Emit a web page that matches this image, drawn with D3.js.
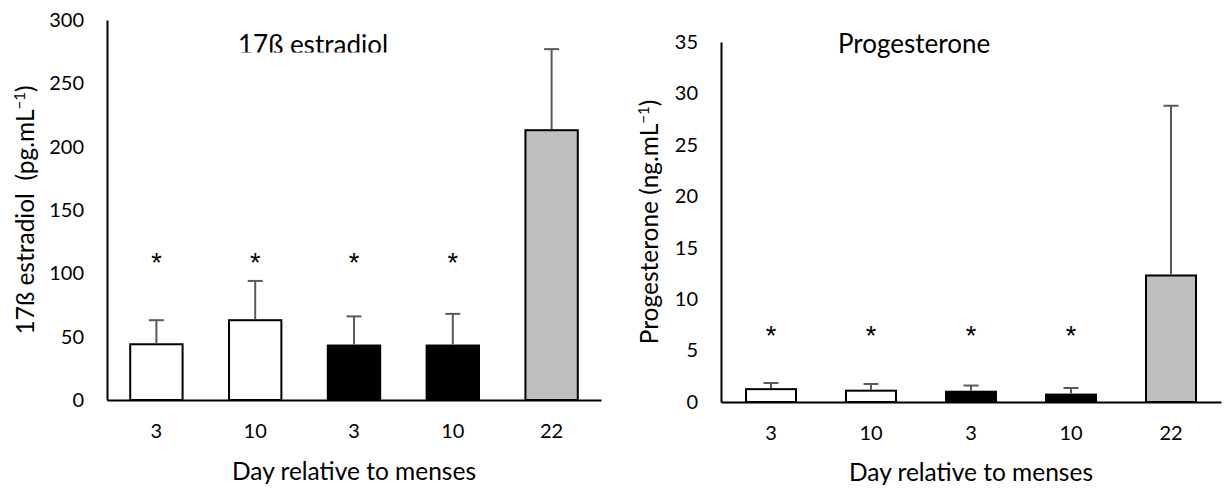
<!DOCTYPE html>
<html>
<head>
<meta charset="utf-8">
<script src="https://cdn.jsdelivr.net/npm/d3@7"></script>
<style>
  html, body { margin: 0; padding: 0; background: #fff; }
  svg { display: block; font-family: Lato, "Open Sans", sans-serif; }
  .pre { white-space: pre; }
</style>
</head>
<body>
<svg id="chart" width="1228" height="488"></svg>
<script>
// ---- data ----
const categories = ["3", "10", "3", "10", "22"];
const barFills = ["#ffffff", "#ffffff", "#000000", "#000000", "#bfbfbf"];
const significant = [true, true, true, true, false];

const e2Means = [44, 63, 43, 43, 213];
const e2Errors = [19, 31, 23, 25, 64];
const e2Ticks = [0, 50, 100, 150, 200, 250, 300];
const e2StarLevel = 113;

const p4Means = [1.25, 1.1, 1.0, 0.72, 12.3];
const p4Errors = [0.6, 0.65, 0.6, 0.64, 16.5];
const p4Ticks = [0, 5, 10, 15, 20, 25, 30, 35];
const p4StarLevel = 7.1;

const xTitle = "Day relative to menses";

const svg = d3.select("#chart");
const TICK_FONT = 20;
const LABEL_FONT = 24.5;
const TITLE_FONT = 26;

function panel(cfg) {
  const g = svg.append("g");
  const idx = categories.map((_, i) => i);
  const x = d3.scaleBand().domain(idx).range([cfg.x0, cfg.x1])
    .paddingInner(cfg.pad).paddingOuter(cfg.pad / 2);
  const y = d3.scaleLinear().domain([0, d3.max(cfg.ticks)]).range([cfg.yBottom, cfg.yTop]);

  // bars
  g.selectAll("rect.bar").data(cfg.means).join("rect")
    .attr("class", "bar")
    .attr("x", (d, i) => x(i))
    .attr("width", x.bandwidth())
    .attr("y", d => y(d))
    .attr("height", d => y(0) - y(d))
    .attr("fill", (d, i) => barFills[i])
    .attr("stroke", "#000")
    .attr("stroke-width", 2);

  // error bars
  const capW = 15;
  const eb = g.selectAll("g.err").data(cfg.means).join("g").attr("class", "err")
    .attr("stroke", "#595959").attr("stroke-width", 2);
  eb.append("line")
    .attr("x1", (d, i) => x(i) + x.bandwidth() / 2)
    .attr("x2", (d, i) => x(i) + x.bandwidth() / 2)
    .attr("y1", d => y(d) - 1)
    .attr("y2", (d, i) => y(d + cfg.errors[i]));
  eb.append("line")
    .attr("x1", (d, i) => x(i) + x.bandwidth() / 2 - capW / 2)
    .attr("x2", (d, i) => x(i) + x.bandwidth() / 2 + capW / 2)
    .attr("y1", (d, i) => y(d + cfg.errors[i]))
    .attr("y2", (d, i) => y(d + cfg.errors[i]));

  // stars (centred vertically on the star level)
  g.selectAll("text.star").data(idx.filter(i => significant[i])).join("text")
    .attr("class", "star")
    .attr("x", i => x(i) + x.bandwidth() / 2)
    .attr("y", y(cfg.starLevel))
    .attr("text-anchor", "middle")
    .attr("font-family", "Liberation Sans, sans-serif")
    .attr("font-size", 27)
    .attr("fill", "#000")
    .text("*")
    .each(function () {
      const bb = this.getBBox();
      const cy = y(cfg.starLevel);
      d3.select(this).attr("y", cy + (cy - (bb.y + bb.height * 0.28)));
    });

  // y axis
  const yAxis = d3.axisLeft(y).tickValues(cfg.ticks).tickSize(0).tickSizeOuter(0).tickPadding(23);
  const ya = g.append("g").attr("transform", `translate(${cfg.x0},0)`).call(yAxis);
  ya.select(".domain").attr("stroke", "#000").attr("stroke-width", 2);
  ya.selectAll("text").attr("font-size", TICK_FONT).attr("font-family", "Lato, sans-serif").attr("fill", "#000");

  // x axis
  const xAxis = d3.axisBottom(x).tickSize(0).tickSizeOuter(0).tickPadding(24)
    .tickFormat(i => categories[i]);
  const xa = g.append("g").attr("transform", `translate(0,${y(0)})`).call(xAxis);
  xa.select(".domain").attr("stroke", "#000").attr("stroke-width", 2);
  xa.selectAll("text").attr("font-size", TICK_FONT).attr("font-family", "Lato, sans-serif").attr("fill", "#000");

  // x title
  g.append("text")
    .attr("x", (cfg.x0 + cfg.x1) / 2)
    .attr("y", cfg.xTitleY)
    .attr("text-anchor", "middle")
    .attr("font-size", LABEL_FONT)
    .attr("fill", "#000")
    .text(xTitle);

  // y title
  const yt = g.append("text")
    .attr("class", "pre")
    .attr("transform", `translate(${cfg.yTitleX},${(cfg.yTop + cfg.yBottom) / 2}) rotate(-90)`)
    .attr("text-anchor", "middle")
    .attr("font-size", LABEL_FONT)
    .attr("fill", "#000");
  yt.append("tspan").text(cfg.yLabel + "(" + cfg.unit + ".mL");
  yt.append("tspan").attr("font-size", 15).attr("dy", -9).text("\u22121");
  yt.append("tspan").attr("dy", 9).text(")");

  // chart title
  const title = g.append("text")
    .attr("x", cfg.titleX)
    .attr("y", cfg.titleY)
    .attr("font-size", TITLE_FONT)
    .attr("fill", "#000")
    .text(cfg.title);
  if (cfg.clipTitle) {
    const id = "clip" + Math.round(cfg.x0);
    svg.append("defs").append("clipPath").attr("id", id)
      .append("rect").attr("x", 0).attr("y", 0).attr("width", 1228).attr("height", cfg.clipTitle);
    title.attr("clip-path", `url(#${id})`);
  }
}

panel({
  x0: 107, x1: 601, yTop: 20, yBottom: 400, pad: 0.47,
  ticks: e2Ticks, means: e2Means, errors: e2Errors, starLevel: e2StarLevel,
  xTitleY: 480, yTitleX: 34, yLabel: "17\u00DF estradiol  ", unit: "pg",
  title: "17\u00DF estradiol", titleX: 238, titleY: 54, clipTitle: 52.5
});

panel({
  x0: 721, x1: 1221, yTop: 42, yBottom: 402, pad: 0.5,
  ticks: p4Ticks, means: p4Means, errors: p4Errors, starLevel: p4StarLevel,
  xTitleY: 481, yTitleX: 658, yLabel: "Progesterone ", unit: "ng",
  title: "Progesterone", titleX: 838, titleY: 53, clipTitle: null
});
</script>
</body>
</html>
